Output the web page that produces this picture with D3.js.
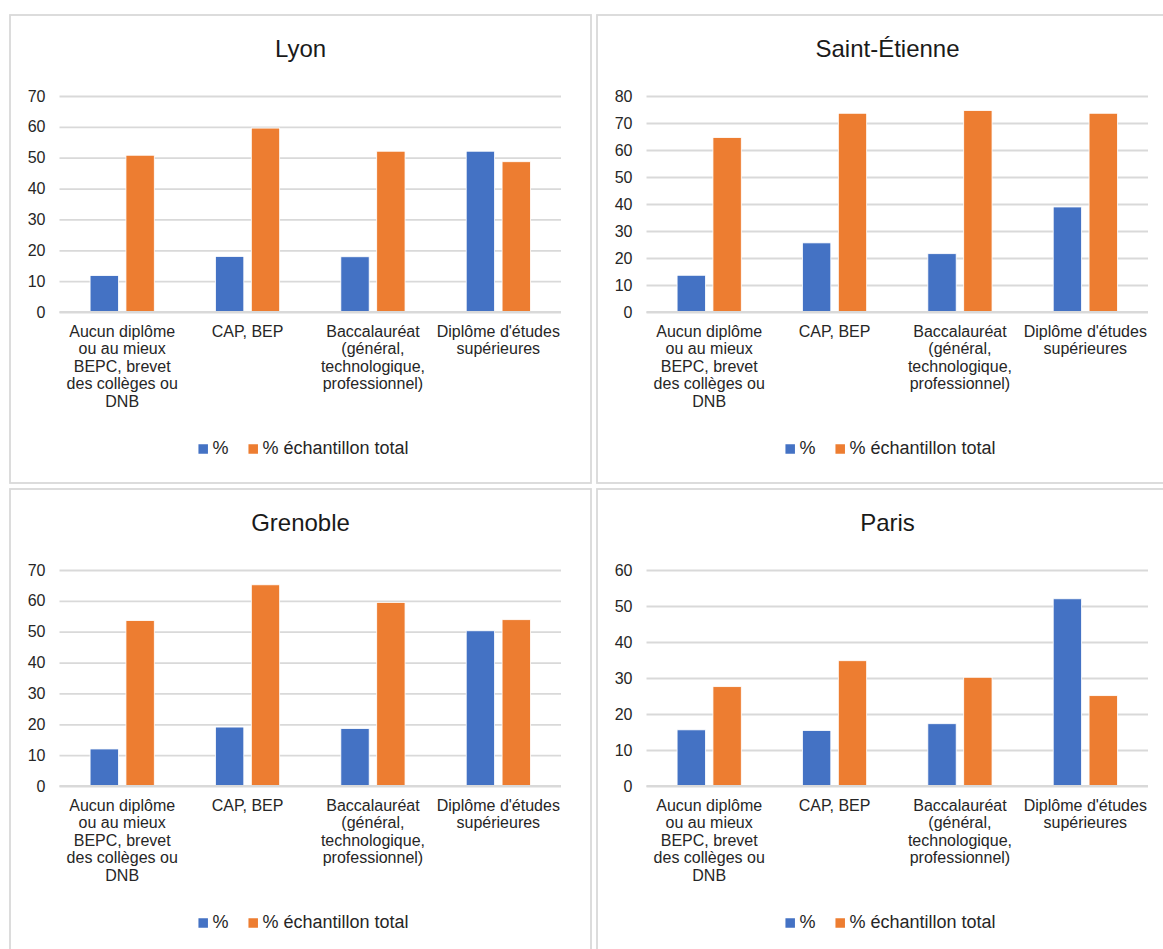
<!DOCTYPE html>
<html><head><meta charset="utf-8">
<script src="https://cdn.jsdelivr.net/npm/d3@7"></script>
<style>body{margin:0;background:#fff;}svg{display:block;font-family:"Liberation Sans",Arial,sans-serif;}</style>
</head><body>
<script>
// ---- Data ----
const categories = [
  "Aucun diplôme ou au mieux BEPC, brevet des collèges ou DNB",
  "CAP, BEP",
  "Baccalauréat (général, technologique, professionnel)",
  "Diplôme d'études supérieures"
];
const categoryLines = [
  ["Aucun diplôme", "ou au mieux", "BEPC, brevet", "des collèges ou", "DNB"],
  ["CAP, BEP"],
  ["Baccalauréat", "(général,", "technologique,", "professionnel)"],
  ["Diplôme d'études", "supérieures"]
];
const seriesNames = ["%", "% échantillon total"];
const cities = ["Lyon", "Saint-Étienne", "Grenoble", "Paris"];
const lyonPct = [11.8, 18.0, 17.9, 52.1];
const lyonTotal = [50.8, 59.6, 52.1, 48.7];
const stEtiennePct = [13.6, 25.6, 21.6, 38.9];
const stEtienneTotal = [64.6, 73.6, 74.6, 73.6];
const grenoblePct = [12.0, 19.1, 18.6, 50.3];
const grenobleTotal = [53.6, 65.2, 59.5, 53.9];
const parisPct = [15.6, 15.4, 17.3, 52.0];
const parisTotal = [27.6, 34.8, 30.2, 25.1];
const yMax = [70, 80, 70, 60];
const colors = ["#4472C4", "#ED7D31"];

const panels = [
  {title: cities[0], a: lyonPct, b: lyonTotal, max: yMax[0], x0: 10, y0: 15},
  {title: cities[1], a: stEtiennePct, b: stEtienneTotal, max: yMax[1], x0: 597, y0: 15},
  {title: cities[2], a: grenoblePct, b: grenobleTotal, max: yMax[2], x0: 10, y0: 489},
  {title: cities[3], a: parisPct, b: parisTotal, max: yMax[3], x0: 597, y0: 489}
];

const W = 1163, H = 949, PW = 581, PH = 468;
const svg = d3.select("body").append("svg").attr("width", W).attr("height", H);
svg.append("rect").attr("width", W).attr("height", H).attr("fill", "#fff");

const textColor = "#262626";

panels.forEach(p => {
  const g = svg.append("g").attr("transform", `translate(${p.x0},${p.y0})`);
  g.append("rect").attr("x", 0).attr("y", 0).attr("width", PW).attr("height", PH)
    .attr("fill", "#fff").attr("stroke", "#d9d9d9").attr("stroke-width", 1.8);

  g.append("text").attr("x", PW / 2).attr("y", 34).attr("dy", "0.35em")
    .attr("text-anchor", "middle").attr("font-size", 24).attr("fill", "#1a1a1a").text(p.title);

  const left = 49.5, right = 551, top = 81, bottom = 297;
  const x = d3.scaleBand().domain(categories).range([left, right]).padding(0);
  const y = d3.scaleLinear().domain([0, p.max]).range([bottom, top]);
  const ticks = d3.range(0, p.max + 1, 10);

  // gridlines
  const grid = g.append("g").attr("transform", `translate(${left},0)`)
    .call(d3.axisLeft(y).tickValues(ticks).tickSize(-(right - left)).tickFormat(""));
  grid.select(".domain").remove();
  grid.selectAll("line").attr("stroke", "#d9d9d9").attr("stroke-width", 1.8);

  // y tick labels
  const ya = g.append("g").attr("transform", `translate(${left - 14},0)`)
    .call(d3.axisLeft(y).tickValues(ticks).tickSize(0).tickPadding(0));
  ya.select(".domain").remove();
  ya.selectAll("text").attr("font-size", 16).attr("fill", textColor)
    .attr("font-family", '"Liberation Sans",Arial,sans-serif');

  // bars
  const bw = x.bandwidth();
  const barW = bw * 0.226, gap = bw * 0.06;
  [p.a, p.b].forEach((vals, si) => {
    g.append("g").selectAll("rect").data(vals).join("rect")
      .attr("x", (d, i) => {
        const c = x(categories[i]) + bw / 2;
        return si === 0 ? c - gap / 2 - barW : c + gap / 2;
      })
      .attr("y", d => y(d))
      .attr("width", barW)
      .attr("height", d => y(0) - y(d))
      .attr("fill", colors[si])
      .attr("stroke", "#ffffff").attr("stroke-width", 0.8);
  });

  // baseline
  g.append("line").attr("x1", left).attr("x2", right).attr("y1", y(0)).attr("y2", y(0))
    .attr("stroke", "#d9d9d9").attr("stroke-width", 1.8);

  // category labels
  categories.forEach((c, i) => {
    const t = g.append("text").attr("text-anchor", "middle").attr("font-size", 16).attr("fill", textColor);
    categoryLines[i].forEach((ln, j) => {
      t.append("tspan").attr("x", x(c) + bw / 2).attr("y", 316 + j * 17.6).attr("dy", "0.35em").text(ln);
    });
  });

  // legend
  const lg = g.append("g");
  const sq = 9.5, lgY = 433;
  const items = [];
  let cx = 0;
  seriesNames.forEach((s, i) => {
    const it = lg.append("g");
    it.append("rect").attr("x", cx).attr("y", lgY - sq / 2 + 1).attr("width", sq).attr("height", sq).attr("fill", colors[i]);
    const tt = it.append("text").attr("x", cx + sq + 4.5).attr("y", lgY).attr("dy", "0.35em")
      .attr("font-size", 18).attr("fill", textColor).text(s);
    const tw = tt.node().getComputedTextLength();
    cx += sq + 4.5 + tw + (i === 0 ? 20 : 0);
  });
  const totalW = cx;
  lg.attr("transform", `translate(${PW / 2 + 3 - totalW / 2},0)`);
});
</script>
</body></html>
